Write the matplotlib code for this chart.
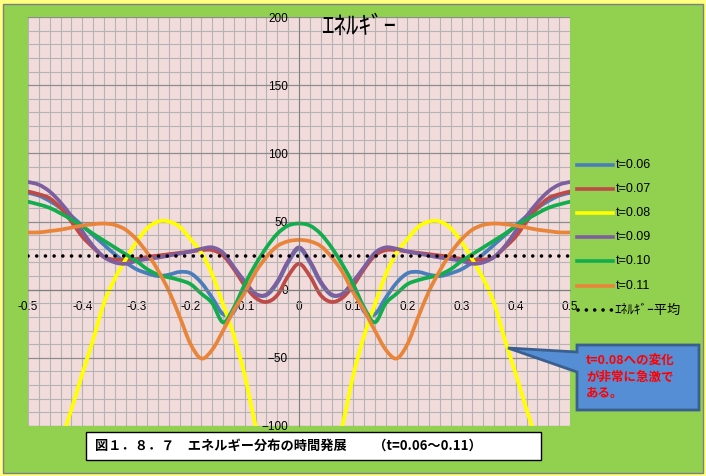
import numpy as np
import matplotlib.pyplot as plt
from matplotlib.path import Path
from matplotlib.patches import PathPatch, Rectangle, Polygon
from matplotlib.lines import Line2D

plt.rcParams['font.family'] = ['Liberation Sans', 'Noto Sans CJK JP', 'DejaVu Sans']

# データ (x = -0.5 ... 0.5, 0.02刻み)
x = np.round(np.arange(-0.5, 0.5001, 0.02), 2)

e_006 = [71, 69, 65, 60, 54, 47, 40, 33, 26, 20, 15, 12, 10, 11, 13, 12, 5, -6, -18, -16, 2, -3.5, -4, 5, 20,
         30,
         20, 5, -4, -3.5, 2, -16, -18, -6, 5, 12, 13, 11, 10, 12, 15, 20, 26, 33, 40, 47, 54, 60, 65, 69, 71]
e_007 = [72, 70, 67, 60, 50, 39, 31, 24, 22, 22, 22.5, 24, 25, 26, 27, 28, 29, 29, 25, 15, 3, -6, -9, -4, 10,
         19,
         10, -4, -9, -6, 3, 15, 25, 29, 29, 28, 27, 26, 25, 24, 22.5, 22, 22, 24, 31, 39, 50, 60, 67, 70, 72]
e_008 = [-185, -165, -140, -113, -88, -62, -37, -10, 8, 22, 35, 45, 50, 50, 46, 37, 27, 11, -11, -34, -63, -100, -130, -155, -170,
         -175,
         -170, -155, -130, -100, -63, -34, -11, 11, 27, 37, 46, 50, 50, 45, 35, 22, 8, -10, -37, -62, -88, -113, -140, -165, -185]
e_009 = [79, 77, 72, 64, 54, 43, 32, 24, 20, 19, 21, 22.5, 23.5, 25, 26.5, 28, 30, 31, 27, 16.5, 6, -3, -3.5, 6, 21,
         31,
         21, 6, -3.5, -3, 6, 16.5, 27, 31, 30, 28, 26.5, 25, 23.5, 22.5, 21, 19, 20, 24, 32, 43, 54, 64, 72, 77, 79]
e_010 = [64.5, 62.5, 60, 56, 51.5, 46.5, 41, 36, 31, 26, 21, 15, 11, 9, 7, 4, -3, -10, -24, -13, 4, 18.5, 31, 41, 47,
         48.5,
         47, 41, 31, 18.5, 4, -13, -24, -10, -3, 4, 7, 9, 11, 15, 21, 26, 31, 36, 41, 46.5, 51.5, 56, 60, 62.5, 64.5]
e_011 = [42, 42, 43, 44, 45.5, 47, 48, 48.5, 47.5, 44, 37, 27, 14, -1, -20, -40, -50.5, -44, -30, -15, -2, 13, 24, 32, 35.5,
         36.5,
         35.5, 32, 24, 13, -2, -15, -30, -44, -50.5, -40, -20, -1, 14, 27, 37, 44, 47.5, 48.5, 48, 47, 45.5, 44, 43, 42, 42]
e_avg = [25] * len(x)

series = [e_006, e_007, e_008, e_009, e_010, e_011]
labels = ['t=0.06', 't=0.07', 't=0.08', 't=0.09', 't=0.10', 't=0.11']
colors = ['#4A7EBB', '#BE4B48', '#FFFF00', '#7D5FA0', '#14AD4E', '#E8853A']
avg_label = 'ｴﾈﾙｷﾞｰ平均'

xticks = [-0.5, -0.4, -0.3, -0.2, -0.1, 0, 0.1, 0.2, 0.3, 0.4, 0.5]
xtick_labels = ['-0.5', '-0.4', '-0.3', '-0.2', '-0.1', '0', '0.1', '0.2', '0.3', '0.4', '0.5']
yticks = [-100, -50, 0, 50, 100, 150, 200]

W, H = 706, 476


def fx(px):
    return px / W


def fy(py):
    return 1 - py / H


# Excelの平滑線のようにベジェ曲線で結ぶ
def smooth_path(xs, ys):
    pts = np.column_stack([xs, ys]).astype(float)
    n = len(pts)
    verts = [pts[0]]
    codes = [Path.MOVETO]
    for i in range(n - 1):
        p0 = pts[i - 1] if i > 0 else pts[i]
        p1 = pts[i]
        p2 = pts[i + 1]
        p3 = pts[i + 2] if i + 2 < n else pts[i + 1]
        verts += [p1 + (p2 - p0) / 6, p2 - (p3 - p1) / 6, p2]
        codes += [Path.CURVE4] * 3
    return Path(verts, codes)


fig = plt.figure(figsize=(W / 100, H / 100), dpi=100, facecolor='#FFFF80')
fig.patches.append(Rectangle((fx(3), fy(473)), fx(700), 469 / H, transform=fig.transFigure,
                             facecolor='#92D050', edgecolor='#7F7F7F', lw=1, zorder=-10))

ax = fig.add_axes([fx(28), fy(426), fx(542), 409 / H])
ax.set_facecolor('#F2DCDB')
ax.set_xlim(-0.5, 0.5)
ax.set_ylim(-100, 200)

ax.set_xticks(xticks)
ax.set_xticklabels(xtick_labels)
ax.set_xticks(np.arange(-0.5, 0.501, 0.02), minor=True)
ax.set_yticks(yticks)
ax.set_yticks(np.arange(-100, 201, 10), minor=True)
ax.grid(which='both', axis='x', color='#B4B4B4', lw=0.8)
ax.grid(which='minor', axis='y', color='#B4B4B4', lw=0.8)
ax.grid(which='major', axis='y', color='#8C8C8C', lw=0.9)
ax.set_axisbelow(True)

for s in ['top', 'right']:
    ax.spines[s].set_visible(False)
ax.spines['left'].set_position(('data', 0))
ax.spines['bottom'].set_position(('data', 0))
ax.spines['left'].set_color('#7F7F7F')
ax.spines['bottom'].set_color('#7F7F7F')
ax.tick_params(which='both', length=0)
ax.tick_params(axis='x', pad=8, labelsize=8.5)
ax.tick_params(axis='y', pad=8, labelsize=8.5)

for ys, c in zip(series, colors):
    ax.add_patch(PathPatch(smooth_path(x, ys), fill=False, edgecolor=c, lw=2.7,
                           capstyle='round', joinstyle='round'))

dot_style = (0, (0.01, 2.4))
ax.plot(x, e_avg, color='black', lw=2.6, linestyle=dot_style, dash_capstyle='round')

fig.text(fx(359), fy(27), 'ｴﾈﾙｷﾞｰ', fontsize=18,
         family=['Noto Sans CJK JP'], ha='center', va='center')

# 凡例 (手動配置)
leg_rows = [165, 189, 213, 237, 261, 286, 310]
for i, py in enumerate(leg_rows):
    if i < len(labels):
        fig.add_artist(Line2D([fx(577), fx(613)], [fy(py), fy(py)], color=colors[i], lw=2.6))
        fig.text(fx(616), fy(py), labels[i], fontsize=9, ha='left', va='center')
    else:
        fig.add_artist(Line2D([fx(578), fx(615)], [fy(py), fy(py)], color='black', lw=2.6,
                              linestyle=(0, (0.01, 2.3)), dash_capstyle='round'))
        fig.text(fx(614), fy(py), avg_label, fontsize=9.5, family=['Noto Sans CJK JP'],
                 ha='left', va='center')

# 吹き出し
callout = [(577, 345), (699, 345), (699, 410), (577, 410), (577, 372), (508, 348), (577, 352)]
fig.patches.append(Polygon([(fx(a), fy(b)) for a, b in callout], closed=True, transform=fig.transFigure,
                           facecolor='#558ED5', edgecolor='#3A5F8F', lw=2))
for txt, py in [('t=0.08への変化', 360), ('が非常に急激で', 377), ('ある。', 394)]:
    fig.text(fx(586), fy(py), txt, color='#FF0000', fontsize=9, fontweight='bold',
             family=['Noto Sans CJK JP'], ha='left', va='center')

# 図タイトル
fig.patches.append(Rectangle((fx(86), fy(460)), fx(455), 28 / H, transform=fig.transFigure,
                             facecolor='white', edgecolor='black', lw=1))
fig.text(fx(95), fy(446), '図１．８．７　エネルギー分布の時間発展　　（t=0.06～0.11）',
         fontsize=9.5, fontweight='bold', family=['Noto Sans CJK JP'], ha='left', va='center')

fig.savefig('out.png', dpi=100, facecolor=fig.get_facecolor())
